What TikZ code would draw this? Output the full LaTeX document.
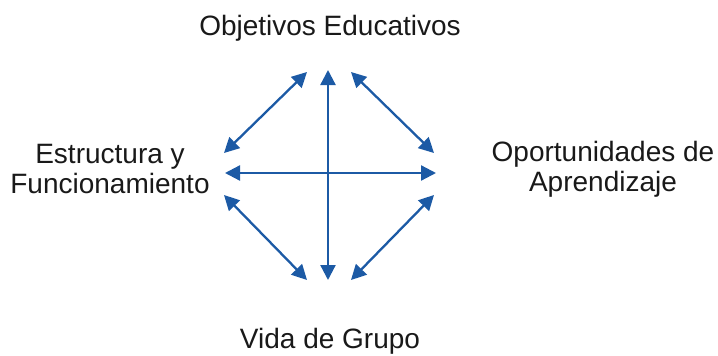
\documentclass[tikz,border=0pt]{standalone}
\usepackage{fontspec}
\setmainfont{Liberation Sans}
\usetikzlibrary{arrows.meta}
\definecolor{arrblue}{RGB}{28,90,165}
\tikzset{
  lbl/.style={font=\fontsize{28}{30}\selectfont, inner sep=0pt, align=center, text=black!90},
  link/.style={draw=arrblue, line width=2.3pt, {Triangle[length=15pt,width=15pt]}-{Triangle[length=15pt,width=15pt]}}
}
\begin{document}
\begin{tikzpicture}[x=1pt,y=-1pt]
\useasboundingbox (0,0) rectangle (718,356);
\node[lbl, anchor=base] (top) at (330,35) {Objetivos Educativos};
\node[lbl, anchor=base] (bot) at (330,348) {Vida de Grupo};
\node[lbl, anchor=base] (left) at (110,193) {Estructura y\\Funcionamiento};
\node[lbl, anchor=base] (right) at (603,191) {Oportunidades de\\Aprendizaje};
\coordinate (vt) at (328,70);
\coordinate (vb) at (328,280);
\coordinate (hl) at (225,173);
\coordinate (hr) at (436,173);
\coordinate (tl1) at (307,72);
\coordinate (tl2) at (224,153);
\coordinate (tr1) at (351,72);
\coordinate (tr2) at (434,153);
\coordinate (bl1) at (224,195);
\coordinate (bl2) at (307,280);
\coordinate (br1) at (434,195);
\coordinate (br2) at (351,280);
\draw[link] (vt) -- (vb);
\draw[link] (hl) -- (hr);
\draw[link] (tl1) -- (tl2);
\draw[link] (tr1) -- (tr2);
\draw[link] (bl1) -- (bl2);
\draw[link] (br1) -- (br2);
\end{tikzpicture}
\end{document}
